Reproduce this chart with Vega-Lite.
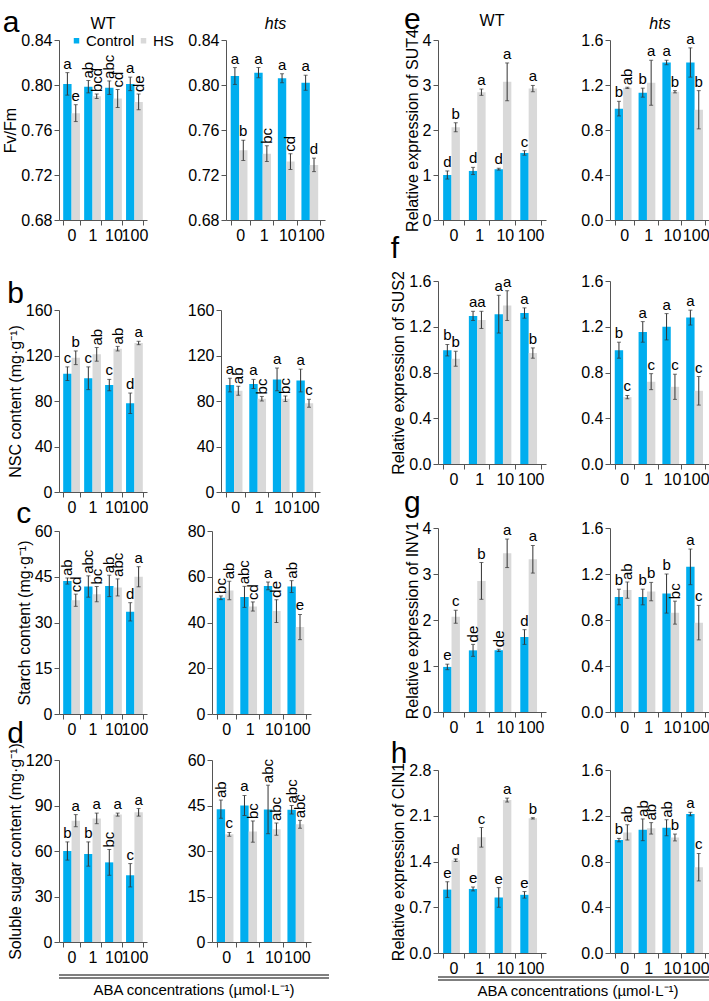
{
"$schema": "https://vega.github.io/schema/vega-lite/v6.json",
"padding": {"left": 2, "top": 4, "right": 0, "bottom": 0},
"datasets": {"d": [
{"p":"a","g":"WT","x":"0","c":"Control","m":0.801,"s":0.010,"l":"a"},
{"p":"a","g":"WT","x":"0","c":"HS","m":0.775,"s":0.0075,"l":"e"},
{"p":"a","g":"WT","x":"1","c":"Control","m":0.7985,"s":0.0055,"l":"ab"},
{"p":"a","g":"WT","x":"1","c":"HS","m":0.790,"s":0.002,"l":"bcd"},
{"p":"a","g":"WT","x":"10","c":"Control","m":0.7976,"s":0.006,"l":"abc"},
{"p":"a","g":"WT","x":"10","c":"HS","m":0.788,"s":0.008,"l":"cd"},
{"p":"a","g":"WT","x":"100","c":"Control","m":0.801,"s":0.006,"l":"a"},
{"p":"a","g":"WT","x":"100","c":"HS","m":0.785,"s":0.007,"l":"de"},
{"p":"a","g":"hts","x":"0","c":"Control","m":0.808,"s":0.0075,"l":"a"},
{"p":"a","g":"hts","x":"0","c":"HS","m":0.742,"s":0.009,"l":"b"},
{"p":"a","g":"hts","x":"1","c":"Control","m":0.811,"s":0.0045,"l":"a"},
{"p":"a","g":"hts","x":"1","c":"HS","m":0.739,"s":0.007,"l":"bc"},
{"p":"a","g":"hts","x":"10","c":"Control","m":0.806,"s":0.004,"l":"a"},
{"p":"a","g":"hts","x":"10","c":"HS","m":0.732,"s":0.007,"l":"cd"},
{"p":"a","g":"hts","x":"100","c":"Control","m":0.802,"s":0.0067,"l":"a"},
{"p":"a","g":"hts","x":"100","c":"HS","m":0.729,"s":0.006,"l":"d"},
{"p":"b","g":"WT","x":"0","c":"Control","m":104,"s":6,"l":"c"},
{"p":"b","g":"WT","x":"0","c":"HS","m":118,"s":6,"l":"b"},
{"p":"b","g":"WT","x":"1","c":"Control","m":100,"s":10,"l":"c"},
{"p":"b","g":"WT","x":"1","c":"HS","m":121,"s":6,"l":"ab"},
{"p":"b","g":"WT","x":"10","c":"Control","m":94,"s":5,"l":"c"},
{"p":"b","g":"WT","x":"10","c":"HS","m":126,"s":2,"l":"ab"},
{"p":"b","g":"WT","x":"100","c":"Control","m":78,"s":9,"l":"d"},
{"p":"b","g":"WT","x":"100","c":"HS","m":131,"s":1.5,"l":"a"},
{"p":"b","g":"hts","x":"0","c":"Control","m":94,"s":6,"l":"a"},
{"p":"b","g":"hts","x":"0","c":"HS","m":89,"s":4,"l":"ab"},
{"p":"b","g":"hts","x":"1","c":"Control","m":95,"s":4,"l":"a"},
{"p":"b","g":"hts","x":"1","c":"HS","m":82,"s":2,"l":"bc"},
{"p":"b","g":"hts","x":"10","c":"Control","m":99,"s":10,"l":"a"},
{"p":"b","g":"hts","x":"10","c":"HS","m":82,"s":2.5,"l":"bc"},
{"p":"b","g":"hts","x":"100","c":"Control","m":98,"s":10,"l":"a"},
{"p":"b","g":"hts","x":"100","c":"HS","m":78,"s":3.5,"l":"c"},
{"p":"c","g":"WT","x":"0","c":"Control","m":43.6,"s":1,"l":"ab"},
{"p":"c","g":"WT","x":"0","c":"HS","m":37.3,"s":2,"l":"cd"},
{"p":"c","g":"WT","x":"1","c":"Control","m":41.8,"s":3.5,"l":"abc"},
{"p":"c","g":"WT","x":"1","c":"HS","m":39.3,"s":2.5,"l":"bc"},
{"p":"c","g":"WT","x":"10","c":"Control","m":42,"s":3.5,"l":"ab"},
{"p":"c","g":"WT","x":"10","c":"HS","m":41.5,"s":2.8,"l":"abc"},
{"p":"c","g":"WT","x":"100","c":"Control","m":33.5,"s":3,"l":"d"},
{"p":"c","g":"WT","x":"100","c":"HS","m":45,"s":3.3,"l":"a"},
{"p":"c","g":"hts","x":"0","c":"Control","m":50.8,"s":0.8,"l":"bc"},
{"p":"c","g":"hts","x":"0","c":"HS","m":54,"s":4,"l":"ab"},
{"p":"c","g":"hts","x":"1","c":"Control","m":51.2,"s":4.6,"l":"abc"},
{"p":"c","g":"hts","x":"1","c":"HS","m":47,"s":2,"l":"cd"},
{"p":"c","g":"hts","x":"10","c":"Control","m":56,"s":1.7,"l":"a"},
{"p":"c","g":"hts","x":"10","c":"HS","m":45,"s":5,"l":"de"},
{"p":"c","g":"hts","x":"100","c":"Control","m":55.7,"s":2.6,"l":"ab"},
{"p":"c","g":"hts","x":"100","c":"HS","m":38,"s":5.5,"l":"e"},
{"p":"d","g":"WT","x":"0","c":"Control","m":60,"s":6,"l":"b"},
{"p":"d","g":"WT","x":"0","c":"HS","m":80,"s":4,"l":"a"},
{"p":"d","g":"WT","x":"1","c":"Control","m":58,"s":8,"l":"b"},
{"p":"d","g":"WT","x":"1","c":"HS","m":81.5,"s":3.5,"l":"a"},
{"p":"d","g":"WT","x":"10","c":"Control","m":52.5,"s":8.5,"l":"bc"},
{"p":"d","g":"WT","x":"10","c":"HS","m":84,"s":1,"l":"a"},
{"p":"d","g":"WT","x":"100","c":"Control","m":44,"s":7.7,"l":"c"},
{"p":"d","g":"WT","x":"100","c":"HS","m":85.5,"s":2.5,"l":"a"},
{"p":"d","g":"hts","x":"0","c":"Control","m":43.8,"s":3,"l":"ab"},
{"p":"d","g":"hts","x":"0","c":"HS","m":35.5,"s":0.6,"l":"c"},
{"p":"d","g":"hts","x":"1","c":"Control","m":45,"s":3.3,"l":"a"},
{"p":"d","g":"hts","x":"1","c":"HS","m":36.4,"s":3.5,"l":"bc"},
{"p":"d","g":"hts","x":"10","c":"Control","m":43.7,"s":8,"l":"abc"},
{"p":"d","g":"hts","x":"10","c":"HS","m":37.2,"s":2,"l":"abc"},
{"p":"d","g":"hts","x":"100","c":"Control","m":43.6,"s":1.4,"l":"abc"},
{"p":"d","g":"hts","x":"100","c":"HS","m":38.8,"s":1.3,"l":"abc"},
{"p":"e","g":"WT","x":"0","c":"Control","m":1.0,"s":0.09,"l":"d"},
{"p":"e","g":"WT","x":"0","c":"HS","m":2.06,"s":0.1,"l":"b"},
{"p":"e","g":"WT","x":"1","c":"Control","m":1.09,"s":0.08,"l":"d"},
{"p":"e","g":"WT","x":"1","c":"HS","m":2.84,"s":0.07,"l":"a"},
{"p":"e","g":"WT","x":"10","c":"Control","m":1.13,"s":0.02,"l":"d"},
{"p":"e","g":"WT","x":"10","c":"HS","m":3.07,"s":0.42,"l":"a"},
{"p":"e","g":"WT","x":"100","c":"Control","m":1.49,"s":0.05,"l":"c"},
{"p":"e","g":"WT","x":"100","c":"HS","m":2.92,"s":0.07,"l":"a"},
{"p":"e","g":"hts","x":"0","c":"Control","m":0.99,"s":0.065,"l":"b"},
{"p":"e","g":"hts","x":"0","c":"HS","m":1.175,"s":0.005,"l":"ab"},
{"p":"e","g":"hts","x":"1","c":"Control","m":1.132,"s":0.04,"l":"b"},
{"p":"e","g":"hts","x":"1","c":"HS","m":1.22,"s":0.2,"l":"a"},
{"p":"e","g":"hts","x":"10","c":"Control","m":1.40,"s":0.02,"l":"a"},
{"p":"e","g":"hts","x":"10","c":"HS","m":1.14,"s":0.01,"l":"b"},
{"p":"e","g":"hts","x":"100","c":"Control","m":1.40,"s":0.13,"l":"a"},
{"p":"e","g":"hts","x":"100","c":"HS","m":0.98,"s":0.17,"l":"b"},
{"p":"f","g":"WT","x":"0","c":"Control","m":0.995,"s":0.05,"l":"b"},
{"p":"f","g":"WT","x":"0","c":"HS","m":0.92,"s":0.065,"l":"b"},
{"p":"f","g":"WT","x":"1","c":"Control","m":1.295,"s":0.04,"l":"a"},
{"p":"f","g":"WT","x":"1","c":"HS","m":1.26,"s":0.075,"l":"a"},
{"p":"f","g":"WT","x":"10","c":"Control","m":1.31,"s":0.165,"l":"a"},
{"p":"f","g":"WT","x":"10","c":"HS","m":1.385,"s":0.13,"l":"a"},
{"p":"f","g":"WT","x":"100","c":"Control","m":1.32,"s":0.045,"l":"a"},
{"p":"f","g":"WT","x":"100","c":"HS","m":0.97,"s":0.045,"l":"b"},
{"p":"f","g":"hts","x":"0","c":"Control","m":0.995,"s":0.07,"l":"b"},
{"p":"f","g":"hts","x":"0","c":"HS","m":0.585,"s":0.015,"l":"c"},
{"p":"f","g":"hts","x":"1","c":"Control","m":1.155,"s":0.09,"l":"a"},
{"p":"f","g":"hts","x":"1","c":"HS","m":0.72,"s":0.07,"l":"c"},
{"p":"f","g":"hts","x":"10","c":"Control","m":1.2,"s":0.115,"l":"a"},
{"p":"f","g":"hts","x":"10","c":"HS","m":0.675,"s":0.11,"l":"c"},
{"p":"f","g":"hts","x":"100","c":"Control","m":1.28,"s":0.065,"l":"a"},
{"p":"f","g":"hts","x":"100","c":"HS","m":0.64,"s":0.125,"l":"c"},
{"p":"g","g":"WT","x":"0","c":"Control","m":0.98,"s":0.06,"l":"e"},
{"p":"g","g":"WT","x":"0","c":"HS","m":2.07,"s":0.14,"l":"c"},
{"p":"g","g":"WT","x":"1","c":"Control","m":1.34,"s":0.13,"l":"de"},
{"p":"g","g":"WT","x":"1","c":"HS","m":2.85,"s":0.4,"l":"b"},
{"p":"g","g":"WT","x":"10","c":"Control","m":1.34,"s":0.025,"l":"de"},
{"p":"g","g":"WT","x":"10","c":"HS","m":3.45,"s":0.31,"l":"a"},
{"p":"g","g":"WT","x":"100","c":"Control","m":1.63,"s":0.16,"l":"d"},
{"p":"g","g":"WT","x":"100","c":"HS","m":3.32,"s":0.3,"l":"a"},
{"p":"g","g":"hts","x":"0","c":"Control","m":1.0,"s":0.068,"l":"b"},
{"p":"g","g":"hts","x":"0","c":"HS","m":1.06,"s":0.07,"l":"ab"},
{"p":"g","g":"hts","x":"1","c":"Control","m":1.0,"s":0.068,"l":"b"},
{"p":"g","g":"hts","x":"1","c":"HS","m":1.047,"s":0.08,"l":"b"},
{"p":"g","g":"hts","x":"10","c":"Control","m":1.03,"s":0.17,"l":"b"},
{"p":"g","g":"hts","x":"10","c":"HS","m":0.864,"s":0.1,"l":"bc"},
{"p":"g","g":"hts","x":"100","c":"Control","m":1.262,"s":0.155,"l":"a"},
{"p":"g","g":"hts","x":"100","c":"HS","m":0.777,"s":0.15,"l":"c"},
{"p":"h","g":"WT","x":"0","c":"Control","m":0.97,"s":0.12,"l":"e"},
{"p":"h","g":"WT","x":"0","c":"HS","m":1.42,"s":0.02,"l":"d"},
{"p":"h","g":"WT","x":"1","c":"Control","m":0.98,"s":0.03,"l":"e"},
{"p":"h","g":"WT","x":"1","c":"HS","m":1.77,"s":0.15,"l":"c"},
{"p":"h","g":"WT","x":"10","c":"Control","m":0.85,"s":0.15,"l":"e"},
{"p":"h","g":"WT","x":"10","c":"HS","m":2.34,"s":0.03,"l":"a"},
{"p":"h","g":"WT","x":"100","c":"Control","m":0.89,"s":0.05,"l":"e"},
{"p":"h","g":"WT","x":"100","c":"HS","m":2.06,"s":0.01,"l":"b"},
{"p":"h","g":"hts","x":"0","c":"Control","m":0.987,"s":0.015,"l":"b"},
{"p":"h","g":"hts","x":"0","c":"HS","m":1.054,"s":0.067,"l":"ab"},
{"p":"h","g":"hts","x":"1","c":"Control","m":1.077,"s":0.095,"l":"ab"},
{"p":"h","g":"hts","x":"1","c":"HS","m":1.09,"s":0.05,"l":"ab"},
{"p":"h","g":"hts","x":"10","c":"Control","m":1.095,"s":0.07,"l":"ab"},
{"p":"h","g":"hts","x":"10","c":"HS","m":1.01,"s":0.03,"l":"b"},
{"p":"h","g":"hts","x":"100","c":"Control","m":1.215,"s":0.015,"l":"a"},
{"p":"h","g":"hts","x":"100","c":"HS","m":0.75,"s":0.12,"l":"c"}
]},
"data": {"name": "d"},
"spacing": 60,
"hconcat": [
{"spacing": 36, "vconcat": [
 {"title": {"text": "a", "offset": -22}, "spacing": 39, "hconcat": [
  {"width": 88, "height": 180, "title": {"text": "WT", "anchor": "middle", "frame": "group", "fontSize": 16, "offset": 0},
   "transform": [{"filter": "datum.p==='a'&&datum.g==='WT'"}, {"calculate": "datum.m+datum.s", "as": "t"}],
   "encoding": {"x": {"field": "x", "type": "ordinal", "sort": ["0","1","10","100"]}, "xOffset": {"field": "c", "type": "nominal"}},
   "layer": [
    {"mark": {"type": "bar", "clip": true}, "encoding": {"y": {"field": "m", "type": "quantitative", "scale": {"domain": [0.68, 0.84], "nice": false}, "axis": {"values": [0.68,0.72,0.76,0.80,0.84], "format": ".2f", "title": "Fv/Fm"}}, "color": {"field": "c", "type": "nominal", "legend": {"title": null}}}},
    {"mark": {"type": "errorbar", "ticks": {"size": 4}, "color": "#333"}, "encoding": {"y": {"field": "m", "type": "quantitative", "title": "Fv/Fm"}, "yError": {"field": "s"}}},
    {"transform": [{"filter": "length(datum.l)<2"}], "mark": {"type": "text", "baseline": "bottom", "dy": -1}, "encoding": {"y": {"field": "t", "type": "quantitative"}, "text": {"field": "l"}}},
    {"transform": [{"filter": "length(datum.l)>1"}], "mark": {"type": "text", "angle": 270, "align": "left", "baseline": "middle", "dx": 2}, "encoding": {"y": {"field": "t", "type": "quantitative"}, "text": {"field": "l"}}}
   ]},
  {"width": 99, "height": 180, "title": {"text": "hts", "anchor": "middle", "frame": "group", "fontSize": 16, "fontStyle": "italic", "offset": 0},
   "transform": [{"filter": "datum.p==='a'&&datum.g==='hts'"}, {"calculate": "datum.m+datum.s", "as": "t"}],
   "encoding": {"x": {"field": "x", "type": "ordinal", "sort": ["0","1","10","100"]}, "xOffset": {"field": "c", "type": "nominal"}},
   "layer": [
    {"mark": {"type": "bar", "clip": true}, "encoding": {"y": {"field": "m", "type": "quantitative", "scale": {"domain": [0.68, 0.84], "nice": false}, "axis": {"values": [0.68,0.72,0.76,0.80,0.84], "format": ".2f", "title": null}}, "color": {"field": "c", "type": "nominal"}}},
    {"mark": {"type": "errorbar", "ticks": {"size": 4}, "color": "#333"}, "encoding": {"y": {"field": "m", "type": "quantitative", "title": null}, "yError": {"field": "s"}}},
    {"transform": [{"filter": "length(datum.l)<2"}], "mark": {"type": "text", "baseline": "bottom", "dy": -1}, "encoding": {"y": {"field": "t", "type": "quantitative"}, "text": {"field": "l"}}},
    {"transform": [{"filter": "length(datum.l)>1"}], "mark": {"type": "text", "angle": 270, "align": "left", "baseline": "middle", "dx": 2}, "encoding": {"y": {"field": "t", "type": "quantitative"}, "text": {"field": "l"}}}
   ]}
 ]},
 {"spacing": -16, "vconcat": [
 {"title": {"text": "b", "offset": -7}, "spacing": 39, "hconcat": [
  {"width": 88, "height": 182,
   "transform": [{"filter": "datum.p==='b'&&datum.g==='WT'"}, {"calculate": "datum.m+datum.s", "as": "t"}],
   "encoding": {"x": {"field": "x", "type": "ordinal", "sort": ["0","1","10","100"]}, "xOffset": {"field": "c", "type": "nominal"}},
   "layer": [
    {"mark": {"type": "bar", "clip": true}, "encoding": {"y": {"field": "m", "type": "quantitative", "scale": {"domain": [0, 160], "nice": false}, "axis": {"values": [0,40,80,120,160], "title": "NSC content (mg·g⁻¹)"}}, "color": {"field": "c", "type": "nominal"}}},
    {"mark": {"type": "errorbar", "ticks": {"size": 4}, "color": "#333"}, "encoding": {"y": {"field": "m", "type": "quantitative", "title": "NSC content (mg·g⁻¹)"}, "yError": {"field": "s"}}},
    {"transform": [{"filter": "length(datum.l)<2"}], "mark": {"type": "text", "baseline": "bottom", "dy": -1}, "encoding": {"y": {"field": "t", "type": "quantitative"}, "text": {"field": "l"}}},
    {"transform": [{"filter": "length(datum.l)>1"}], "mark": {"type": "text", "angle": 270, "align": "left", "baseline": "middle", "dx": 2}, "encoding": {"y": {"field": "t", "type": "quantitative"}, "text": {"field": "l"}}}
   ]},
  {"width": 99, "height": 182,
   "transform": [{"filter": "datum.p==='b'&&datum.g==='hts'"}, {"calculate": "datum.m+datum.s", "as": "t"}],
   "encoding": {"x": {"field": "x", "type": "ordinal", "sort": ["0","1","10","100"]}, "xOffset": {"field": "c", "type": "nominal"}},
   "layer": [
    {"mark": {"type": "bar", "clip": true}, "encoding": {"y": {"field": "m", "type": "quantitative", "scale": {"domain": [0, 160], "nice": false}, "axis": {"values": [0,40,80,120,160], "title": null}}, "color": {"field": "c", "type": "nominal"}}},
    {"mark": {"type": "errorbar", "ticks": {"size": 4}, "color": "#333"}, "encoding": {"y": {"field": "m", "type": "quantitative", "title": null}, "yError": {"field": "s"}}},
    {"transform": [{"filter": "length(datum.l)<2"}], "mark": {"type": "text", "baseline": "bottom", "dy": -1}, "encoding": {"y": {"field": "t", "type": "quantitative"}, "text": {"field": "l"}}},
    {"transform": [{"filter": "length(datum.l)>1"}], "mark": {"type": "text", "angle": 270, "align": "left", "baseline": "middle", "dx": 2}, "encoding": {"y": {"field": "t", "type": "quantitative"}, "text": {"field": "l"}}}
   ]}
 ]},
 {"spacing": -19, "vconcat": [
 {"title": {"text": "c", "offset": -6}, "spacing": 39, "hconcat": [
  {"width": 88, "height": 183,
   "transform": [{"filter": "datum.p==='c'&&datum.g==='WT'"}, {"calculate": "datum.m+datum.s", "as": "t"}],
   "encoding": {"x": {"field": "x", "type": "ordinal", "sort": ["0","1","10","100"]}, "xOffset": {"field": "c", "type": "nominal"}},
   "layer": [
    {"mark": {"type": "bar", "clip": true}, "encoding": {"y": {"field": "m", "type": "quantitative", "scale": {"domain": [0, 60], "nice": false}, "axis": {"values": [0,15,30,45,60], "title": "Starch content (mg·g⁻¹)"}}, "color": {"field": "c", "type": "nominal"}}},
    {"mark": {"type": "errorbar", "ticks": {"size": 4}, "color": "#333"}, "encoding": {"y": {"field": "m", "type": "quantitative", "title": "Starch content (mg·g⁻¹)"}, "yError": {"field": "s"}}},
    {"transform": [{"filter": "length(datum.l)<2"}], "mark": {"type": "text", "baseline": "bottom", "dy": -1}, "encoding": {"y": {"field": "t", "type": "quantitative"}, "text": {"field": "l"}}},
    {"transform": [{"filter": "length(datum.l)>1"}], "mark": {"type": "text", "angle": 270, "align": "left", "baseline": "middle", "dx": 2}, "encoding": {"y": {"field": "t", "type": "quantitative"}, "text": {"field": "l"}}}
   ]},
  {"width": 99, "height": 183,
   "transform": [{"filter": "datum.p==='c'&&datum.g==='hts'"}, {"calculate": "datum.m+datum.s", "as": "t"}],
   "encoding": {"x": {"field": "x", "type": "ordinal", "sort": ["0","1","10","100"]}, "xOffset": {"field": "c", "type": "nominal"}},
   "layer": [
    {"mark": {"type": "bar", "clip": true}, "encoding": {"y": {"field": "m", "type": "quantitative", "scale": {"domain": [0, 80], "nice": false}, "axis": {"values": [0,20,40,60,80], "title": null}}, "color": {"field": "c", "type": "nominal"}}},
    {"mark": {"type": "errorbar", "ticks": {"size": 4}, "color": "#333"}, "encoding": {"y": {"field": "m", "type": "quantitative", "title": null}, "yError": {"field": "s"}}},
    {"transform": [{"filter": "length(datum.l)<2"}], "mark": {"type": "text", "baseline": "bottom", "dy": -1}, "encoding": {"y": {"field": "t", "type": "quantitative"}, "text": {"field": "l"}}},
    {"transform": [{"filter": "length(datum.l)>1"}], "mark": {"type": "text", "angle": 270, "align": "left", "baseline": "middle", "dx": 2}, "encoding": {"y": {"field": "t", "type": "quantitative"}, "text": {"field": "l"}}}
   ]}
 ]},
 {"spacing": 9, "vconcat": [
 {"title": {"text": "d", "offset": -6}, "spacing": 39, "hconcat": [
  {"width": 88, "height": 182,
   "transform": [{"filter": "datum.p==='d'&&datum.g==='WT'"}, {"calculate": "datum.m+datum.s", "as": "t"}],
   "encoding": {"x": {"field": "x", "type": "ordinal", "sort": ["0","1","10","100"]}, "xOffset": {"field": "c", "type": "nominal"}},
   "layer": [
    {"mark": {"type": "bar", "clip": true}, "encoding": {"y": {"field": "m", "type": "quantitative", "scale": {"domain": [0, 120], "nice": false}, "axis": {"values": [0,30,60,90,120], "title": "Soluble sugar content (mg·g⁻¹)"}}, "color": {"field": "c", "type": "nominal"}}},
    {"mark": {"type": "errorbar", "ticks": {"size": 4}, "color": "#333"}, "encoding": {"y": {"field": "m", "type": "quantitative", "title": "Soluble sugar content (mg·g⁻¹)"}, "yError": {"field": "s"}}},
    {"transform": [{"filter": "length(datum.l)<2"}], "mark": {"type": "text", "baseline": "bottom", "dy": -1}, "encoding": {"y": {"field": "t", "type": "quantitative"}, "text": {"field": "l"}}},
    {"transform": [{"filter": "length(datum.l)>1"}], "mark": {"type": "text", "angle": 270, "align": "left", "baseline": "middle", "dx": 2}, "encoding": {"y": {"field": "t", "type": "quantitative"}, "text": {"field": "l"}}}
   ]},
  {"width": 99, "height": 182,
   "transform": [{"filter": "datum.p==='d'&&datum.g==='hts'"}, {"calculate": "datum.m+datum.s", "as": "t"}],
   "encoding": {"x": {"field": "x", "type": "ordinal", "sort": ["0","1","10","100"]}, "xOffset": {"field": "c", "type": "nominal"}},
   "layer": [
    {"mark": {"type": "bar", "clip": true}, "encoding": {"y": {"field": "m", "type": "quantitative", "scale": {"domain": [0, 60], "nice": false}, "axis": {"values": [0,15,30,45,60], "title": null}}, "color": {"field": "c", "type": "nominal"}}},
    {"mark": {"type": "errorbar", "ticks": {"size": 4}, "color": "#333"}, "encoding": {"y": {"field": "m", "type": "quantitative", "title": null}, "yError": {"field": "s"}}},
    {"transform": [{"filter": "length(datum.l)<2"}], "mark": {"type": "text", "baseline": "bottom", "dy": -1}, "encoding": {"y": {"field": "t", "type": "quantitative"}, "text": {"field": "l"}}},
    {"transform": [{"filter": "length(datum.l)>1"}], "mark": {"type": "text", "angle": 270, "align": "left", "baseline": "middle", "dx": 2}, "encoding": {"y": {"field": "t", "type": "quantitative"}, "text": {"field": "l"}}}
   ]}
 ]},
 {"width": 270, "height": 3, "data": {"values": [{"k": 0}, {"k": 1}]},
  "title": {"text": "ABA concentrations (µmol·L⁻¹)", "orient": "bottom", "anchor": "middle", "frame": "group", "fontSize": 15, "offset": 4},
  "mark": {"type": "rule", "color": "#000", "strokeWidth": 1},
  "encoding": {"y": {"field": "k", "type": "quantitative", "scale": {"domain": [0, 1]}, "axis": {"labels": false, "ticks": false, "domain": false, "grid": false, "title": null, "minExtent": 33, "maxExtent": 33}}}}
 ]}
 ]}
 ]}
]},
{"spacing": -10, "vconcat": [
 {"title": {"text": "e", "offset": -22}, "spacing": 34, "hconcat": [
  {"width": 108, "height": 180, "title": {"text": "WT", "anchor": "middle", "frame": "group", "fontSize": 16, "offset": 0},
   "transform": [{"filter": "datum.p==='e'&&datum.g==='WT'"}, {"calculate": "datum.m+datum.s", "as": "t"}],
   "encoding": {"x": {"field": "x", "type": "ordinal", "sort": ["0","1","10","100"]}, "xOffset": {"field": "c", "type": "nominal"}},
   "layer": [
    {"mark": {"type": "bar", "clip": true}, "encoding": {"y": {"field": "m", "type": "quantitative", "scale": {"domain": [0, 4], "nice": false}, "axis": {"values": [0,1,2,3,4], "title": "Relative expression of SUT4"}}, "color": {"field": "c", "type": "nominal"}}},
    {"mark": {"type": "errorbar", "ticks": {"size": 4}, "color": "#333"}, "encoding": {"y": {"field": "m", "type": "quantitative", "title": "Relative expression of SUT4"}, "yError": {"field": "s"}}},
    {"transform": [{"filter": "length(datum.l)<2"}], "mark": {"type": "text", "baseline": "bottom", "dy": -1}, "encoding": {"y": {"field": "t", "type": "quantitative"}, "text": {"field": "l"}}},
    {"transform": [{"filter": "length(datum.l)>1"}], "mark": {"type": "text", "angle": 270, "align": "left", "baseline": "middle", "dx": 2}, "encoding": {"y": {"field": "t", "type": "quantitative"}, "text": {"field": "l"}}}
   ]},
  {"width": 100, "height": 180, "title": {"text": "hts", "anchor": "middle", "frame": "group", "fontSize": 16, "fontStyle": "italic", "offset": 0},
   "transform": [{"filter": "datum.p==='e'&&datum.g==='hts'"}, {"calculate": "datum.m+datum.s", "as": "t"}],
   "encoding": {"x": {"field": "x", "type": "ordinal", "sort": ["0","1","10","100"]}, "xOffset": {"field": "c", "type": "nominal"}},
   "layer": [
    {"mark": {"type": "bar", "clip": true}, "encoding": {"y": {"field": "m", "type": "quantitative", "scale": {"domain": [0, 1.6], "nice": false}, "axis": {"values": [0,0.4,0.8,1.2,1.6], "format": ".1f", "title": null}}, "color": {"field": "c", "type": "nominal"}}},
    {"mark": {"type": "errorbar", "ticks": {"size": 4}, "color": "#333"}, "encoding": {"y": {"field": "m", "type": "quantitative", "title": null}, "yError": {"field": "s"}}},
    {"transform": [{"filter": "length(datum.l)<2"}], "mark": {"type": "text", "baseline": "bottom", "dy": -1}, "encoding": {"y": {"field": "t", "type": "quantitative"}, "text": {"field": "l"}}},
    {"transform": [{"filter": "length(datum.l)>1"}], "mark": {"type": "text", "angle": 270, "align": "left", "baseline": "middle", "dx": 2}, "encoding": {"y": {"field": "t", "type": "quantitative"}, "text": {"field": "l"}}}
   ]}
 ]},
 {"spacing": 1, "vconcat": [
 {"title": {"text": "f", "offset": 7}, "spacing": 34, "hconcat": [
  {"width": 108, "height": 183,
   "transform": [{"filter": "datum.p==='f'&&datum.g==='WT'"}, {"calculate": "datum.m+datum.s", "as": "t"}],
   "encoding": {"x": {"field": "x", "type": "ordinal", "sort": ["0","1","10","100"]}, "xOffset": {"field": "c", "type": "nominal"}},
   "layer": [
    {"mark": {"type": "bar", "clip": true}, "encoding": {"y": {"field": "m", "type": "quantitative", "scale": {"domain": [0, 1.6], "nice": false}, "axis": {"values": [0,0.4,0.8,1.2,1.6], "format": ".1f", "title": "Relative expression of SUS2"}}, "color": {"field": "c", "type": "nominal"}}},
    {"mark": {"type": "errorbar", "ticks": {"size": 4}, "color": "#333"}, "encoding": {"y": {"field": "m", "type": "quantitative", "title": "Relative expression of SUS2"}, "yError": {"field": "s"}}},
    {"transform": [{"filter": "length(datum.l)<2"}], "mark": {"type": "text", "baseline": "bottom", "dy": -1}, "encoding": {"y": {"field": "t", "type": "quantitative"}, "text": {"field": "l"}}},
    {"transform": [{"filter": "length(datum.l)>1"}], "mark": {"type": "text", "angle": 270, "align": "left", "baseline": "middle", "dx": 2}, "encoding": {"y": {"field": "t", "type": "quantitative"}, "text": {"field": "l"}}}
   ]},
  {"width": 100, "height": 183,
   "transform": [{"filter": "datum.p==='f'&&datum.g==='hts'"}, {"calculate": "datum.m+datum.s", "as": "t"}],
   "encoding": {"x": {"field": "x", "type": "ordinal", "sort": ["0","1","10","100"]}, "xOffset": {"field": "c", "type": "nominal"}},
   "layer": [
    {"mark": {"type": "bar", "clip": true}, "encoding": {"y": {"field": "m", "type": "quantitative", "scale": {"domain": [0, 1.6], "nice": false}, "axis": {"values": [0,0.4,0.8,1.2,1.6], "format": ".1f", "title": null}}, "color": {"field": "c", "type": "nominal"}}},
    {"mark": {"type": "errorbar", "ticks": {"size": 4}, "color": "#333"}, "encoding": {"y": {"field": "m", "type": "quantitative", "title": null}, "yError": {"field": "s"}}},
    {"transform": [{"filter": "length(datum.l)<2"}], "mark": {"type": "text", "baseline": "bottom", "dy": -1}, "encoding": {"y": {"field": "t", "type": "quantitative"}, "text": {"field": "l"}}},
    {"transform": [{"filter": "length(datum.l)>1"}], "mark": {"type": "text", "angle": 270, "align": "left", "baseline": "middle", "dx": 2}, "encoding": {"y": {"field": "t", "type": "quantitative"}, "text": {"field": "l"}}}
   ]}
 ]},
 {"spacing": 4, "vconcat": [
 {"title": {"text": "g", "offset": 2}, "spacing": 34, "hconcat": [
  {"width": 108, "height": 184,
   "transform": [{"filter": "datum.p==='g'&&datum.g==='WT'"}, {"calculate": "datum.m+datum.s", "as": "t"}],
   "encoding": {"x": {"field": "x", "type": "ordinal", "sort": ["0","1","10","100"]}, "xOffset": {"field": "c", "type": "nominal"}},
   "layer": [
    {"mark": {"type": "bar", "clip": true}, "encoding": {"y": {"field": "m", "type": "quantitative", "scale": {"domain": [0, 4], "nice": false}, "axis": {"values": [0,1,2,3,4], "title": "Relative expression of INV1"}}, "color": {"field": "c", "type": "nominal"}}},
    {"mark": {"type": "errorbar", "ticks": {"size": 4}, "color": "#333"}, "encoding": {"y": {"field": "m", "type": "quantitative", "title": "Relative expression of INV1"}, "yError": {"field": "s"}}},
    {"transform": [{"filter": "length(datum.l)<2"}], "mark": {"type": "text", "baseline": "bottom", "dy": -1}, "encoding": {"y": {"field": "t", "type": "quantitative"}, "text": {"field": "l"}}},
    {"transform": [{"filter": "length(datum.l)>1"}], "mark": {"type": "text", "angle": 270, "align": "left", "baseline": "middle", "dx": 2}, "encoding": {"y": {"field": "t", "type": "quantitative"}, "text": {"field": "l"}}}
   ]},
  {"width": 100, "height": 184,
   "transform": [{"filter": "datum.p==='g'&&datum.g==='hts'"}, {"calculate": "datum.m+datum.s", "as": "t"}],
   "encoding": {"x": {"field": "x", "type": "ordinal", "sort": ["0","1","10","100"]}, "xOffset": {"field": "c", "type": "nominal"}},
   "layer": [
    {"mark": {"type": "bar", "clip": true}, "encoding": {"y": {"field": "m", "type": "quantitative", "scale": {"domain": [0, 1.6], "nice": false}, "axis": {"values": [0,0.4,0.8,1.2,1.6], "format": ".1f", "title": null}}, "color": {"field": "c", "type": "nominal"}}},
    {"mark": {"type": "errorbar", "ticks": {"size": 4}, "color": "#333"}, "encoding": {"y": {"field": "m", "type": "quantitative", "title": null}, "yError": {"field": "s"}}},
    {"transform": [{"filter": "length(datum.l)<2"}], "mark": {"type": "text", "baseline": "bottom", "dy": -1}, "encoding": {"y": {"field": "t", "type": "quantitative"}, "text": {"field": "l"}}},
    {"transform": [{"filter": "length(datum.l)>1"}], "mark": {"type": "text", "angle": 270, "align": "left", "baseline": "middle", "dx": 2}, "encoding": {"y": {"field": "t", "type": "quantitative"}, "text": {"field": "l"}}}
   ]}
 ]},
 {"spacing": 0, "vconcat": [
 {"title": {"text": "h", "offset": -7}, "spacing": 34, "hconcat": [
  {"width": 108, "height": 183,
   "transform": [{"filter": "datum.p==='h'&&datum.g==='WT'"}, {"calculate": "datum.m+datum.s", "as": "t"}],
   "encoding": {"x": {"field": "x", "type": "ordinal", "sort": ["0","1","10","100"]}, "xOffset": {"field": "c", "type": "nominal"}},
   "layer": [
    {"mark": {"type": "bar", "clip": true}, "encoding": {"y": {"field": "m", "type": "quantitative", "scale": {"domain": [0, 2.8], "nice": false}, "axis": {"values": [0,0.7,1.4,2.1,2.8], "format": ".1f", "title": "Relative expression of CIN1"}}, "color": {"field": "c", "type": "nominal"}}},
    {"mark": {"type": "errorbar", "ticks": {"size": 4}, "color": "#333"}, "encoding": {"y": {"field": "m", "type": "quantitative", "title": "Relative expression of CIN1"}, "yError": {"field": "s"}}},
    {"transform": [{"filter": "length(datum.l)<2"}], "mark": {"type": "text", "baseline": "bottom", "dy": -1}, "encoding": {"y": {"field": "t", "type": "quantitative"}, "text": {"field": "l"}}},
    {"transform": [{"filter": "length(datum.l)>1"}], "mark": {"type": "text", "angle": 270, "align": "left", "baseline": "middle", "dx": 2}, "encoding": {"y": {"field": "t", "type": "quantitative"}, "text": {"field": "l"}}}
   ]},
  {"width": 100, "height": 183,
   "transform": [{"filter": "datum.p==='h'&&datum.g==='hts'"}, {"calculate": "datum.m+datum.s", "as": "t"}],
   "encoding": {"x": {"field": "x", "type": "ordinal", "sort": ["0","1","10","100"]}, "xOffset": {"field": "c", "type": "nominal"}},
   "layer": [
    {"mark": {"type": "bar", "clip": true}, "encoding": {"y": {"field": "m", "type": "quantitative", "scale": {"domain": [0, 1.6], "nice": false}, "axis": {"values": [0,0.4,0.8,1.2,1.6], "format": ".1f", "title": null}}, "color": {"field": "c", "type": "nominal"}}},
    {"mark": {"type": "errorbar", "ticks": {"size": 4}, "color": "#333"}, "encoding": {"y": {"field": "m", "type": "quantitative", "title": null}, "yError": {"field": "s"}}},
    {"transform": [{"filter": "length(datum.l)<2"}], "mark": {"type": "text", "baseline": "bottom", "dy": -1}, "encoding": {"y": {"field": "t", "type": "quantitative"}, "text": {"field": "l"}}},
    {"transform": [{"filter": "length(datum.l)>1"}], "mark": {"type": "text", "angle": 270, "align": "left", "baseline": "middle", "dx": 2}, "encoding": {"y": {"field": "t", "type": "quantitative"}, "text": {"field": "l"}}}
   ]}
 ]},
 {"width": 280, "height": 3, "data": {"values": [{"k": 0}, {"k": 1}]},
  "title": {"text": "ABA concentrations (µmol·L⁻¹)", "orient": "bottom", "anchor": "middle", "frame": "group", "fontSize": 15, "offset": 3},
  "mark": {"type": "rule", "color": "#000", "strokeWidth": 1},
  "encoding": {"y": {"field": "k", "type": "quantitative", "scale": {"domain": [0, 1]}, "axis": {"labels": false, "ticks": false, "domain": false, "grid": false, "title": null, "minExtent": 20, "maxExtent": 20}}}}
 ]}
 ]}
 ]}
]}
],
"config": {
 "font": "Liberation Sans",
 "view": {"stroke": null},
 "axis": {"labelFont": "Liberation Sans", "labelFontSize": 16, "titleFont": "Liberation Sans", "titleFontSize": 16, "titleFontWeight": "normal", "labelColor": "#000", "titleColor": "#000", "domainColor": "#555", "tickColor": "#555", "grid": false, "tickSize": 5, "labelPadding": 2},
 "axisX": {"tickBand": "extent", "labelAngle": 0, "title": null, "labelPadding": 2},
 "axisY": {"titlePadding": 2},
 "scale": {"bandPaddingInner": 0.42, "bandPaddingOuter": 0.25, "offsetBandPaddingInner": 0, "offsetBandPaddingOuter": 0},
 "range": {"category": ["#00AEEF", "#D9D9D9"]},
 "legend": {"orient": "none", "legendX": 10, "legendY": -7, "direction": "horizontal", "symbolType": "square", "symbolSize": 30, "labelFontSize": 15, "labelFont": "Liberation Sans", "columnPadding": 1, "labelOffset": 2, "symbolStrokeWidth": 0},
 "title": {"font": "Liberation Sans", "fontSize": 30, "fontWeight": "normal", "anchor": "start", "frame": "bounds", "color": "#000"},
 "text": {"font": "Liberation Sans", "fontSize": 15}
}
}
